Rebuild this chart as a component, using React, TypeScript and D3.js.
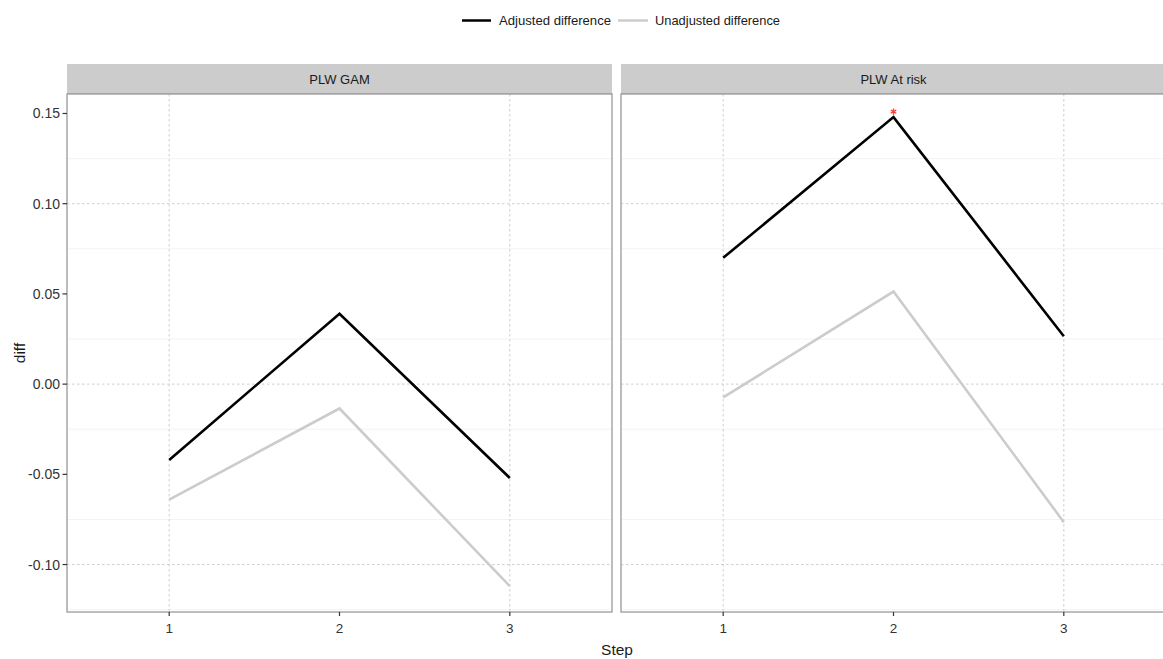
import React from "react";
import * as d3 from "d3";

const panels = ["PLW GAM", "PLW At risk"];
const steps = [1, 2, 3];
const adjustedGAM = [-0.042, 0.039, -0.052];
const unadjustedGAM = [-0.064, -0.0135, -0.112];
const adjustedAtRisk = [0.07, 0.148, 0.0265];
const unadjustedAtRisk = [-0.0074, 0.0513, -0.0765];
const yTicks = [-0.1, -0.05, 0, 0.05, 0.1, 0.15];
const yTickLabels = ["-0.10", "-0.05", "0.00", "0.05", "0.10", "0.15"];
const dashedYGrid = [-0.1, 0, 0.1];
const minorYGrid = [-0.125, -0.075, -0.025, 0.025, 0.075, 0.125];
const dashedXGrid = [1, 3];
const starPanel = ["PLW At risk"];
const starStep = [2];
const starValue = [0.151];
const seriesNames = ["Adjusted difference", "Unadjusted difference"];
const seriesColors = ["#000000", "#cccccc"];

const W = 1163;
const H = 659;
const panelTop = 94;
const panelBottom = 612;
const stripTop = 64;
const panelW = 545;
const panelLefts = [67, 621];
const font = "'Liberation Sans', Arial, sans-serif";

export default function App() {
  const y = d3.scaleLinear().domain([-0.1263, 0.1608]).range([panelBottom, panelTop]);
  const seriesByPanel = [
    [adjustedGAM, unadjustedGAM],
    [adjustedAtRisk, unadjustedAtRisk],
  ];
  const star = d3.symbol().type(d3.symbolAsterisk).size(28)();

  return (
    <svg width={W} height={H} style={{ position: "absolute", left: 0, top: 0, background: "#fff" }} fontFamily={font}>
      {/* legend */}
      <g>
        <line x1={462} x2={491} y1={20.5} y2={20.5} stroke={seriesColors[0]} strokeWidth={2.5} />
        <text x={499} y={25} fontSize={13} fill="#1a1a1a" textLength={112} lengthAdjust="spacingAndGlyphs">{seriesNames[0]}</text>
        <line x1={618} x2={648} y1={20.5} y2={20.5} stroke={seriesColors[1]} strokeWidth={2.5} />
        <text x={655} y={25} fontSize={13} fill="#1a1a1a" textLength={125} lengthAdjust="spacingAndGlyphs">{seriesNames[1]}</text>
      </g>

      {panels.map((p, pi) => {
        const left = panelLefts[pi];
        const x = d3.scaleLinear().domain([0.4, 3.6]).range([left, left + panelW]);
        const line = d3
          .line<number>()
          .x((_, i) => x(steps[i]))
          .y((d) => y(d));
        return (
          <g key={p}>
            {/* strip */}
            <rect x={left} y={stripTop} width={panelW} height={panelTop - stripTop} fill="#cccccc" />
            <line x1={left} x2={left + panelW} y1={panelTop - 0.5} y2={panelTop - 0.5} stroke="#b5b5b5" strokeWidth={1} />
            <text x={x(2)} y={83.5} textAnchor="middle" fontSize={13} fill="#1a1a1a">{p}</text>

            {/* panel background */}
            <rect x={left} y={panelTop} width={panelW} height={panelBottom - panelTop} fill="#fff" />
            {minorYGrid.map((v) => (
              <line key={"m" + v} x1={left} x2={left + panelW} y1={y(v)} y2={y(v)} stroke="#f3f3f3" strokeWidth={1} />
            ))}
            {dashedYGrid.map((v) => (
              <line key={"d" + v} x1={left} x2={left + panelW} y1={y(v)} y2={y(v)} stroke="#c8c8c8" strokeWidth={0.9} strokeDasharray="2.5,2.5" />
            ))}
            {dashedXGrid.map((v) => (
              <line key={"x" + v} x1={x(v)} x2={x(v)} y1={panelTop} y2={panelBottom} stroke="#c8c8c8" strokeWidth={0.9} strokeDasharray="2.5,2.5" />
            ))}

            {/* series */}
            {seriesByPanel[pi]
              .map((vals, si) => ({ vals, si }))
              .reverse()
              .map(({ vals, si }) => (
                <path key={si} d={line(vals) || ""} fill="none" stroke={seriesColors[si]} strokeWidth={2.6} strokeLinejoin="miter" />
              ))}

            {starPanel.map((sp, k) =>
              sp === p ? (
                <path key={"s" + k} d={star} transform={`translate(${x(starStep[k])},${y(starValue[k])})`} fill="none" stroke="#ff3b30" strokeWidth={1.3} />
              ) : null
            )}

            {/* border */}
            <rect x={left} y={panelTop} width={panelW} height={panelBottom - panelTop} fill="none" stroke="#9a9a9a" strokeWidth={1.3} />

            {/* x ticks */}
            {steps.map((s) => (
              <g key={"t" + s}>
                <line x1={x(s)} x2={x(s)} y1={panelBottom} y2={panelBottom + 4} stroke="#333" strokeWidth={1.2} />
                <text x={x(s)} y={633} textAnchor="middle" fontSize={13.5} fill="#333">{s}</text>
              </g>
            ))}
          </g>
        );
      })}

      {/* y axis */}
      {yTicks.map((v, i) => (
        <g key={"y" + v}>
          <line x1={62.5} x2={67} y1={y(v)} y2={y(v)} stroke="#333" strokeWidth={1.2} />
          <text x={60} y={y(v) + 5} textAnchor="end" fontSize={14} fill="#333">{yTickLabels[i]}</text>
        </g>
      ))}

      <text transform={`translate(25,${(panelTop + panelBottom) / 2}) rotate(-90)`} textAnchor="middle" fontSize={15.5} fill="#1a1a1a">diff</text>
      <text x={617} y={655} textAnchor="middle" fontSize={15.5} fill="#1a1a1a">Step</text>
    </svg>
  );
}
